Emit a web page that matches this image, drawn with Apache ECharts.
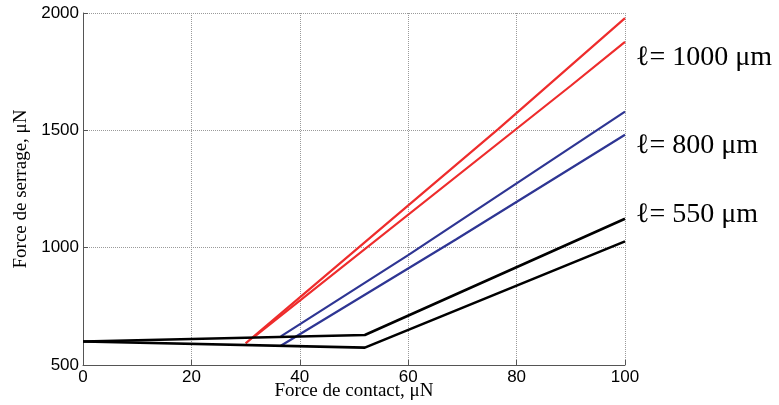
<!DOCTYPE html>
<html>
<head>
<meta charset="utf-8">
<script src="https://cdn.jsdelivr.net/npm/echarts@6/dist/echarts.min.js"></script>
<style>
html,body{margin:0;padding:0;background:#fff;}
#chart{width:779px;height:405px;}
</style>
</head>
<body>
<div id="chart"></div>
<script>
// Data (x: contact force µN, y: clamping force µN)
const xTicks = [0, 20, 40, 60, 80, 100];
const yTicks = [500, 1000, 1500, 2000];
const red1000Upper = [[30, 592], [76.6, 1505], [100, 1978]];
const red1000Lower = [[31.4, 617], [90, 1690], [100, 1877]];
const blue800Upper = [[36.5, 622], [60, 968], [100, 1580]];
const blue800Lower = [[36.5, 582], [68.8, 1035], [100, 1481]];
const black550Upper = [[0, 600], [52, 628], [100, 1123]];
const black550Lower = [[0, 600], [52, 574], [100, 1027]];
const labels = ['ℓ= 1000 μm', 'ℓ= 800 μm', 'ℓ= 550 μm'];
const labelValues = [1835, 1460, 1165];

const chart = echarts.init(document.getElementById('chart'), null, {renderer: 'canvas'});
const RED = '#ee2c2c', BLUE = '#2e3593', BLACK = '#000000';
function line(data, color, w) {
  return {type: 'line', data: data, showSymbol: false, symbol: 'none', smooth: false,
    lineStyle: {color: color, width: w}, itemStyle: {color: color}, silent: true, animation: false};
}
chart.setOption({
  animation: false,
  grid: {left: 83, right: 154, top: 13, bottom: 40, containLabel: false, outerBoundsMode: 'none'},
  xAxis: {
    type: 'value', min: xTicks[0], max: xTicks[xTicks.length - 1], interval: 20,
    name: 'Force de contact, μN', nameLocation: 'middle', nameGap: 17, nameMoveOverlap: false,
    nameTextStyle: {fontFamily: 'Liberation Serif', fontSize: 19, color: '#000'},
    axisLine: {show: true, lineStyle: {color: '#555', width: 1}},
    axisTick: {show: true, inside: true, length: 5, lineStyle: {color: '#555'}},
    axisLabel: {fontFamily: 'Liberation Sans', fontSize: 17, color: '#000', margin: 4,
      formatter: v => String(v)},
    splitLine: {show: true, lineStyle: {type: 'dotted', color: '#9a9a9a', width: 1}}
  },
  yAxis: {
    type: 'value', min: yTicks[0], max: yTicks[yTicks.length - 1], interval: 500,
    name: 'Force de serrage, μN', nameLocation: 'middle', nameGap: 52, nameRotate: 90, nameMoveOverlap: false,
    nameTextStyle: {fontFamily: 'Liberation Serif', fontSize: 19, color: '#000'},
    axisLine: {show: true, lineStyle: {color: '#555', width: 1}},
    axisTick: {show: true, inside: true, length: 5, lineStyle: {color: '#555'}},
    axisLabel: {fontFamily: 'Liberation Sans', fontSize: 17, color: '#000', margin: 4,
      formatter: v => String(v)},
    splitLine: {show: true, lineStyle: {type: 'dotted', color: '#9a9a9a', width: 1}}
  },
  series: [
    line(red1000Upper, RED, 2.2),
    line(red1000Lower, RED, 2.2),
    line(blue800Upper, BLUE, 2.2),
    line(blue800Lower, BLUE, 2.2),
    line(black550Upper, BLACK, 2.6),
    line(black550Lower, BLACK, 2.6)
  ]
});
const gfx = labels.map((t, i) => {
  const p = chart.convertToPixel({gridIndex: 0}, [100, labelValues[i]]);
  return {type: 'text', left: 636, top: p[1] - 8,
    style: {text: t, font: '28px "Liberation Serif"', fill: '#000'}};
});
chart.setOption({graphic: gfx});
</script>
</body>
</html>
